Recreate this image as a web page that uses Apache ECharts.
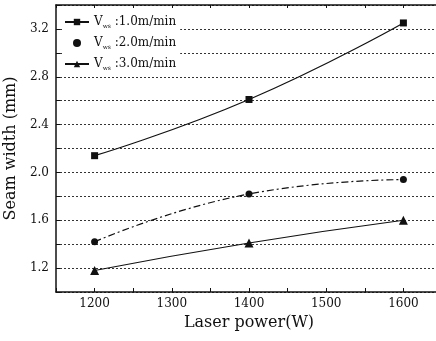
<!DOCTYPE html>
<html>
<head>
<meta charset="utf-8">
<script src="https://cdn.jsdelivr.net/npm/echarts@6/dist/echarts.min.js"></script>
<style>
  html, body { margin: 0; padding: 0; background: #fff; }
  #chart { width: 436px; height: 341px; }
</style>
</head>
<body>
<div id="chart"></div>
<script>
// laser power (W)
const powers = [1200, 1400, 1600];
// seam width (mm) for each welding speed
const width10 = [2.14, 2.61, 3.25];
const width20 = [1.42, 1.82, 1.94];
const width30 = [1.18, 1.41, 1.60];
const seriesNames = ['1.0', '2.0', '3.0'];

const serif = '"DejaVu Serif", "Liberation Serif", serif';

const chart = echarts.init(document.getElementById('chart'));

function pairs(ys) {
    return powers.map((p, i) => [p, ys[i]]);
}

const option = {
    animation: false,
    backgroundColor: '#fff',
    textStyle: { fontFamily: serif, color: '#111' },
    grid: { left: 56, right: -6, top: 5, bottom: 49, outerBoundsMode: 'none', containLabel: false },
    legend: {
        left: 62,
        top: 14,
        orient: 'vertical',
        itemGap: 8,
        itemWidth: 24,
        itemHeight: 8,
        backgroundColor: '#fff',
        padding: [2, 4, 2, 2],
        data: [
            { name: seriesNames[0] },
            { name: seriesNames[1], icon: 'circle', itemStyle: { color: '#111' } },
            { name: seriesNames[2] }
        ],
        formatter: (n) => '{v|V}{sub|ws} {v|:' + n + 'm/min}',
        textStyle: {
            rich: {
                v: { fontFamily: serif, fontSize: 12, color: '#111' },
                sub: { fontFamily: serif, fontSize: 6, color: '#111', padding: [8, 0, 0, 0] }
            }
        }
    },
    xAxis: [{
        type: 'value',
        min: 1150,
        max: 1650,
        interval: 50,
        name: 'Laser power(W)',
        nameLocation: 'middle',
        nameGap: 23,
        nameTextStyle: { fontFamily: serif, fontSize: 16, color: '#111' },
        axisLine: { show: true, lineStyle: { color: '#111', width: 1.5 } },
        axisTick: { show: true, inside: true, length: 4, lineStyle: { color: '#111' } },
        axisLabel: {
            fontFamily: serif, fontSize: 12, color: '#111', margin: 6,
            formatter: (v) => (v % 100 === 0 && v >= 1200 && v <= 1600) ? String(v) : ''
        },
        splitLine: { show: false }
    }, {
        type: 'value',
        position: 'top',
        min: 1150,
        max: 1650,
        interval: 50,
        axisLine: { show: true, lineStyle: { color: '#111', width: 1.5 } },
        axisTick: { show: true, inside: true, length: 3, lineStyle: { color: '#111' } },
        axisLabel: { show: false },
        splitLine: { show: false }
    }],
    yAxis: [{
        type: 'value',
        min: 1.0,
        max: 3.4,
        interval: 0.2,
        name: 'Seam width (mm)',
        nameLocation: 'middle',
        nameGap: 28,
        nameTextStyle: { fontFamily: serif, fontSize: 16, color: '#111' },
        axisLine: { show: true, lineStyle: { color: '#111', width: 1.5 } },
        axisTick: { show: true, inside: true, length: 4, lineStyle: { color: '#111' } },
        axisLabel: {
            fontFamily: serif, fontSize: 12, color: '#111', margin: 7,
            formatter: (v) => Math.round(v * 10) % 4 === 0 ? v.toFixed(1) : ''
        },
        splitLine: { show: true, lineStyle: { color: '#333', width: 1, type: [2, 2] } }
    }, {
        type: 'value',
        position: 'right',
        min: 1.0,
        max: 3.4,
        interval: 0.2,
        axisLine: { show: true, lineStyle: { color: '#111', width: 1.5 } },
        axisTick: { show: false },
        axisLabel: { show: false },
        splitLine: { show: false }
    }],
    series: [{
        name: seriesNames[0],
        type: 'line',
        smooth: true,
        data: pairs(width10),
        symbol: 'rect',
        symbolSize: 7,
        itemStyle: { color: '#111' },
        lineStyle: { color: '#111', width: 1.2 },
        z: 5
    }, {
        name: seriesNames[1],
        type: 'line',
        smooth: true,
        data: pairs(width20),
        symbol: 'circle',
        symbolSize: 7,
        itemStyle: { color: '#111' },
        lineStyle: { color: '#111', width: 1.2, type: [7, 3, 2, 3] },
        z: 5
    }, {
        name: seriesNames[2],
        type: 'line',
        smooth: true,
        data: pairs(width30),
        symbol: 'triangle',
        symbolSize: 9,
        itemStyle: { color: '#111' },
        lineStyle: { color: '#111', width: 1.2 },
        z: 5
    }]
};

chart.setOption(option);
</script>
</body>
</html>
